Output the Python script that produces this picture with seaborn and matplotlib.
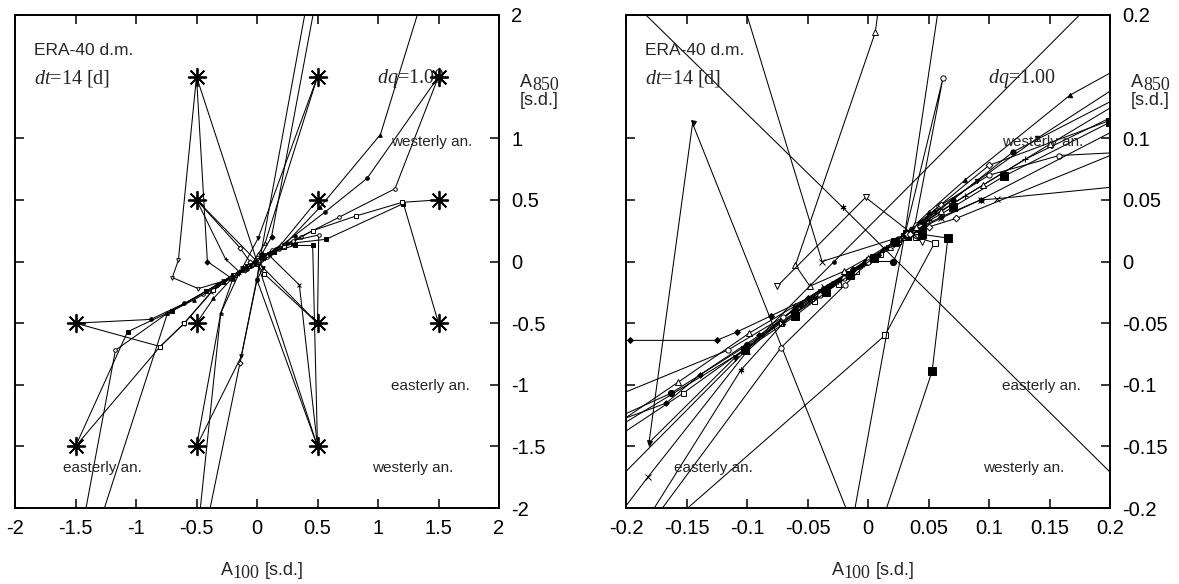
import numpy as np
import pandas as pd
import matplotlib
matplotlib.use("Agg")
import matplotlib.pyplot as plt
import seaborn as sns

# ---------------- left panel: anomaly trajectories, A100 vs A850 [s.d.] ----------------
start_x = [-0.5, 0.5, 1.5, -0.5, 0.5, 1.5, -1.5, -0.5, 0.5, 1.5, -1.5, -0.5, 0.5]
start_y = [1.5, 1.5, 1.5, 0.5, 0.5, 0.5, -0.5, -0.5, -0.5, -0.5, -1.5, -1.5, -1.5]

la_x = [1.5, 0.91, 0.56, 0.31, 0.16, 0.07, 0.03]
la_y = [1.5, 0.675, 0.40, 0.21, 0.10, 0.05, 0.02]
lb_x = [1.5, 1.14, 0.68, 0.36, 0.18, 0.08, 0.02]
lb_y = [1.5, 0.59, 0.36, 0.20, 0.10, 0.04, 0.01]
lc_x = [1.5, 1.21, 0.57, 0.30, 0.14, 0.06, 0.02]
lc_y = [-0.5, 0.47, 0.18, 0.15, 0.08, 0.04, 0.01]
ld_x = [1.5, 1.20, 0.82, 0.46, 0.22, 0.10, 0.03]
ld_y = [0.5, 0.48, 0.37, 0.25, 0.12, 0.06, 0.02]
le_x = [1.45, 1.02, 0.52, 0.25, 0.11, 0.04, 0.00]
le_y = [2.40, 1.03, 0.44, 0.16, 0.07, 0.03, 0.00]
lf_x = [0.5, 0.066, 0.01, -0.05, -0.02, 0.0]
lf_y = [1.5, 0.148, 0.06, -0.03, -0.01, 0.0]
lg_x = [0.5, 0.01, -0.12, -0.05, -0.02]
lg_y = [1.5, 0.19, -0.05, -0.03, -0.01]
lh_x = [-0.5, -0.65, -0.70, -0.485, -0.28, -0.12, -0.04]
lh_y = [1.5, 0.01, -0.13, -0.22, -0.16, -0.07, -0.02]
li_x = [-0.5, -0.41, -0.22, -0.10, -0.04, 0.0]
li_y = [1.5, 0.0, -0.13, -0.06, -0.02, 0.0]
lj_x = [-0.5, -0.14, -0.06, -0.10, -0.04, -0.01]
lj_y = [0.5, 0.11, 0.0, -0.07, -0.03, -0.01]
lk_x = [-0.5, -0.26, -0.15, -0.07, -0.02]
lk_y = [0.5, 0.02, -0.08, -0.04, -0.01]
ll_x = [-1.5, -0.80, -0.61, -0.38, -0.20, -0.08, -0.02]
ll_y = [-0.5, -0.69, -0.51, -0.25, -0.12, -0.05, -0.01]
lm_x = [-1.5, -0.88, -0.60, -0.33, -0.16, -0.06, -0.01]
lm_y = [-0.5, -0.47, -0.34, -0.19, -0.09, -0.03, 0.0]
ln_x = [-1.47, -1.17, -0.74, -0.45, -0.22, -0.09, -0.02]
ln_y = [-2.3, -0.72, -0.42, -0.26, -0.13, -0.05, -0.01]
lo_x = [-1.5, -1.07, -0.70, -0.42, -0.20, -0.08, -0.02]
lo_y = [-1.5, -0.57, -0.40, -0.24, -0.11, -0.04, -0.01]
lp_x = [-1.5, -0.80, -0.60, -0.36, -0.18, -0.07, -0.01]
lp_y = [-1.5, -0.69, -0.50, -0.23, -0.11, -0.04, 0.0]
lq_x = [-1.36, -0.74, -0.52, -0.27, -0.12, -0.04]
lq_y = [-2.3, -0.42, -0.31, -0.17, -0.07, -0.02]
lr_x = [-0.5, -0.30, -0.20, -0.09, -0.03]
lr_y = [-1.5, -0.42, -0.14, -0.06, -0.02]
ls_x = [-0.5, -0.13, 0.0, 0.05, 0.02]
ls_y = [-1.5, -0.77, -0.15, -0.05, 0.0]
lt_x = [0.45, 0.03, 0.01]
lt_y = [2.3, 0.05, 0.0]
lu_x = [0.52, 0.12, 0.04, 0.01]
lu_y = [2.3, 0.20, 0.06, 0.01]
lv_x = [-0.45, -0.14, 0.03, 0.01]
lv_y = [-2.3, -0.82, 0.01, 0.0]
lw_x = [-0.50, -0.30, -0.15, -0.06, -0.01]
lw_y = [-2.3, -0.42, -0.10, -0.04, 0.0]
lx_x = [0.5, 0.35, 0.10, 0.04, 0.01]
lx_y = [-1.5, -0.19, 0.05, 0.03, 0.01]
ly_x = [0.5, 0.0, 0.02, 0.01]
ly_y = [-1.5, -0.15, 0.0, 0.0]
lz_x = [0.5, 0.51, 0.30, 0.12, 0.05, 0.01]
lz_y = [-0.5, 0.215, 0.17, 0.09, 0.04, 0.01]
lA_x = [0.5, 0.46, 0.31, 0.14, 0.05, 0.01]
lA_y = [-1.5, 0.13, 0.13, 0.08, 0.03, 0.0]
lB_x = [0.5, 0.06, 0.0, 0.01]
lB_y = [-0.5, -0.10, -0.02, 0.0]
lC_x = [-0.5, -0.36, -0.20, -0.08, -0.02]
lC_y = [-0.5, -0.30, -0.13, -0.05, -0.01]
lD_x = [0.5, 0.20, 0.08, 0.02]
lD_y = [0.5, 0.14, 0.05, 0.01]
lE_x = [-0.5, 0.5]
lE_y = [1.5, -1.5]
lF_x = [-0.5, 0.5]
lF_y = [0.5, -0.5]

# ---------------- right panel: the same diagnostic, zoomed in ----------------
ra_x = [-0.26, -0.163, -0.10, -0.06, -0.035, -0.015, -0.002, 0.021, 0.030]
ra_y = [-0.15, -0.107, -0.068, -0.041, -0.024, -0.011, 0.000, 0.000, 0.020]
rb_x = [-0.25, -0.153, -0.072, -0.045, -0.025, -0.010, 0.010, 0.025]
rb_y = [-0.17, -0.107, -0.050, -0.032, -0.018, -0.008, 0.006, 0.017]
rc_x = [-0.26, -0.197, -0.125, -0.108, -0.080, -0.050, -0.030, -0.012, 0.008, 0.024]
rc_y = [-0.064, -0.064, -0.064, -0.057, -0.044, -0.030, -0.018, -0.007, 0.005, 0.016]
rd_x = [-0.25, -0.157, -0.098, -0.060, -0.038, -0.018, 0.000, 0.018]
rd_y = [-0.16, -0.098, -0.058, -0.036, -0.022, -0.010, 0.001, 0.012]
re_x = [-0.25, -0.167, -0.139, -0.090, -0.055, -0.032, -0.012, 0.012, 0.027]
re_y = [-0.145, -0.115, -0.092, -0.060, -0.035, -0.020, -0.006, 0.009, 0.019]
rf_x = [0.000, -0.145, -0.181, -0.110, -0.060, -0.040, -0.020, 0.000, 0.020]
rf_y = [-0.245, 0.112, -0.147, -0.078, -0.038, -0.025, -0.012, 0.001, 0.014]
rg_x = [-0.24, -0.182, -0.100, -0.060, -0.036, -0.016, 0.004, 0.022]
rg_y = [-0.25, -0.175, -0.073, -0.037, -0.021, -0.009, 0.003, 0.015]
rh_x = [-0.215, -0.105, -0.070, -0.045, -0.025, -0.005, 0.015]
rh_y = [-0.26, -0.088, -0.050, -0.030, -0.016, -0.003, 0.011]
ri_x = [-0.20, -0.072, -0.019, 0.005, 0.025]
ri_y = [-0.24, -0.070, -0.019, 0.004, 0.018]
rj_x = [-0.22, 0.014, 0.055, 0.040, 0.030]
rj_y = [-0.261, -0.060, 0.015, 0.020, 0.021]
rk_x = [-0.005, 0.053, 0.066, 0.045, 0.032]
rk_y = [-0.26, -0.089, 0.019, 0.022, 0.021]
rl_x = [0.065, 0.030, -0.020]
rl_y = [0.25, 0.020, -0.25]
rm_x = [0.030, 0.062, 0.038, 0.031]
rm_y = [0.020, 0.149, 0.026, 0.021]
rn_x = [0.012, 0.006, -0.060, -0.048, -0.020, 0.000, 0.020]
rn_y = [0.230, 0.186, -0.003, -0.020, -0.008, 0.003, 0.015]
ro_x = [-0.11, -0.038, 0.030]
ro_y = [0.232, 0.000, 0.021]
rp_x = [-0.22, -0.021, 0.23]
rp_y = [0.235, 0.044, -0.20]
rq_x = [-0.075, -0.002, 0.045, 0.035]
rq_y = [-0.020, 0.052, 0.016, 0.021]
rr_x = [-0.23, -0.028, 0.19]
rr_y = [-0.20, 0.000, 0.215]
rs_x = [0.25, 0.167, 0.080, 0.050, 0.035]
rs_y = [0.18, 0.135, 0.066, 0.040, 0.026]
rt_x = [0.26, 0.120, 0.070, 0.045, 0.033]
rt_y = [0.16, 0.089, 0.050, 0.032, 0.023]
ru_x = [0.28, 0.158, 0.100, 0.059, 0.040]
ru_y = [0.092, 0.086, 0.070, 0.045, 0.030]
rv_x = [0.20, 0.112, 0.070, 0.045, 0.032]
rv_y = [0.113, 0.069, 0.044, 0.030, 0.022]
rw_x = [0.27, 0.130, 0.080, 0.050, 0.035]
rw_y = [0.15, 0.083, 0.053, 0.034, 0.024]
rx_x = [0.27, 0.100, 0.060, 0.042, 0.032]
rx_y = [0.14, 0.078, 0.046, 0.030, 0.022]
ry_x = [0.30, 0.107, 0.093, 0.060, 0.040]
ry_y = [0.07, 0.051, 0.050, 0.035, 0.025]
rz_x = [0.26, 0.073, 0.050, 0.035]
rz_y = [0.11, 0.035, 0.028, 0.022]
rA_x = [0.26, 0.093, 0.060, 0.040]
rA_y = [0.135, 0.050, 0.036, 0.026]
rB_x = [0.25, 0.140, 0.090, 0.055, 0.036]
rB_y = [0.17, 0.100, 0.065, 0.040, 0.026]
rC_x = [0.26, 0.150, 0.095, 0.060, 0.040]
rC_y = [0.16, 0.095, 0.062, 0.041, 0.028]
rD_x = [-0.26, -0.116, -0.070, -0.040, -0.020, 0.000, 0.020]
rD_y = [-0.13, -0.072, -0.045, -0.027, -0.013, 0.000, 0.013]
rE_x = [-0.25, -0.102, -0.060, -0.035, -0.015, 0.005, 0.022]
rE_y = [-0.16, -0.072, -0.044, -0.025, -0.011, 0.003, 0.016]

left_xticks = [-2, -1.5, -1, -0.5, 0, 0.5, 1, 1.5, 2]
left_xlabels = ["-2", "-1.5", "-1", "-0.5", "0", "0.5", "1", "1.5", "2"]
left_yticks = [-2, -1.5, -1, -0.5, 0, 0.5, 1, 2]
left_ylabels = ["-2", "-1.5", "-1", "-0.5", "0", "0.5", "1", "2"]
right_xticks = [-0.2, -0.15, -0.1, -0.05, 0, 0.05, 0.1, 0.15, 0.2]
right_xlabels = ["-0.2", "-0.15", "-0.1", "-0.05", "0", "0.05", "0.1", "0.15", "0.2"]
right_yticks = [-0.2, -0.15, -0.1, -0.05, 0, 0.05, 0.1, 0.2]
right_ylabels = ["-0.2", "-0.15", "-0.1", "-0.05", "0", "0.05", "0.1", "0.2"]

left_tracks = [
    ("la", la_x, la_y), ("lb", lb_x, lb_y), ("lc", lc_x, lc_y), ("ld", ld_x, ld_y),
    ("le", le_x, le_y), ("lf", lf_x, lf_y), ("lg", lg_x, lg_y), ("lh", lh_x, lh_y),
    ("li", li_x, li_y), ("lj", lj_x, lj_y), ("lk", lk_x, lk_y), ("ll", ll_x, ll_y),
    ("lm", lm_x, lm_y), ("ln", ln_x, ln_y), ("lo", lo_x, lo_y), ("lp", lp_x, lp_y),
    ("lq", lq_x, lq_y), ("lr", lr_x, lr_y), ("ls", ls_x, ls_y), ("lt", lt_x, lt_y),
    ("lu", lu_x, lu_y), ("lv", lv_x, lv_y), ("lw", lw_x, lw_y), ("lx", lx_x, lx_y),
    ("ly", ly_x, ly_y), ("lz", lz_x, lz_y), ("lA", lA_x, lA_y), ("lB", lB_x, lB_y),
    ("lC", lC_x, lC_y), ("lD", lD_x, lD_y), ("lE", lE_x, lE_y), ("lF", lF_x, lF_y),
]
right_tracks = [
    ("ra", ra_x, ra_y), ("rb", rb_x, rb_y), ("rc", rc_x, rc_y), ("rd", rd_x, rd_y),
    ("re", re_x, re_y), ("rf", rf_x, rf_y), ("rg", rg_x, rg_y), ("rh", rh_x, rh_y),
    ("ri", ri_x, ri_y), ("rj", rj_x, rj_y), ("rk", rk_x, rk_y), ("rl", rl_x, rl_y),
    ("rm", rm_x, rm_y), ("rn", rn_x, rn_y), ("ro", ro_x, ro_y), ("rp", rp_x, rp_y),
    ("rq", rq_x, rq_y), ("rr", rr_x, rr_y), ("rs", rs_x, rs_y), ("rt", rt_x, rt_y),
    ("ru", ru_x, ru_y), ("rv", rv_x, rv_y), ("rw", rw_x, rw_y), ("rx", rx_x, rx_y),
    ("ry", ry_x, ry_y), ("rz", rz_x, rz_y), ("rA", rA_x, rA_y), ("rB", rB_x, rB_y),
    ("rC", rC_x, rC_y), ("rD", rD_x, rD_y), ("rE", rE_x, rE_y),
]

# point symbols, gnuplot-like: (marker, filled, size in pt)
AST = (6, 2, 0)
cycle = [("o", True), ("o", False), ("s", True), ("s", False), ("^", True), ("^", False),
         ("v", True), ("v", False), ("D", True), ("D", False), ("+", False), ("x", False)]
left_style = {name: (cycle[i % len(cycle)][0], cycle[i % len(cycle)][1], 2.6)
              for i, (name, _, _) in enumerate(left_tracks)}
right_style = {
    "ra": ("o", True, 4.5), "rb": ("s", False, 3.6), "rc": ("D", True, 3.0),
    "rd": ("^", False, 3.8), "re": ("D", True, 2.8), "rf": ("v", True, 3.6),
    "rg": ("x", False, 3.8), "rh": (AST, False, 4.2), "ri": ("o", False, 3.8),
    "rj": ("s", False, 3.8), "rk": ("s", True, 5.5), "rl": ("+", False, 3.6),
    "rm": ("o", False, 3.8), "rn": ("^", False, 3.8), "ro": ("x", False, 3.8),
    "rp": (AST, False, 4.2), "rq": ("v", False, 3.8), "rr": ("o", True, 2.6),
    "rs": ("^", True, 3.2), "rt": ("o", True, 3.8), "ru": ("o", False, 3.8),
    "rv": ("s", True, 5.5), "rw": ("+", False, 3.8), "rx": ("D", False, 3.4),
    "ry": ("x", False, 3.8), "rz": ("D", False, 3.4), "rA": ("D", True, 2.8),
    "rB": ("v", True, 3.2), "rC": ("^", False, 3.8), "rD": ("o", False, 3.8),
    "rE": ("s", True, 5.5),
}

sns.set_theme(style="white")
plt.rcParams["font.family"] = ["Liberation Sans", "DejaVu Sans"]
plt.rcParams["mathtext.fontset"] = "custom"
plt.rcParams["mathtext.rm"] = "Liberation Serif"
plt.rcParams["mathtext.it"] = "Liberation Serif:italic"
plt.rcParams["axes.unicode_minus"] = False

W, H = 1179, 584
fig = plt.figure(figsize=(W / 100, H / 100), dpi=100)
ax_l = fig.add_axes([15 / W, 76 / H, 484 / W, 493 / H])
ax_r = fig.add_axes([626 / W, 76 / H, 484 / W, 493 / H])


def px_text(x, y, s, **kw):
    # place a text by its pixel position from the top-left corner of the figure
    fig.text(x / W, 1 - y / H, s, va="baseline", **kw)


def draw_tracks(ax, tracks, styles):
    for name, xs, ys in tracks:
        marker, filled, ms = styles[name]
        df = pd.DataFrame({"x": xs, "y": ys})
        sns.lineplot(data=df, x="x", y="y", ax=ax, sort=False, estimator=None,
                     color="black", linewidth=0.75, marker=marker, markersize=ms,
                     markerfacecolor="black" if filled else "white",
                     markeredgecolor="black", markeredgewidth=0.7)


def frame(ax, xt, xl, yt, yl, lim, x0):
    ax.set_xlim(-lim, lim)
    ax.set_ylim(-lim, lim)
    ax.set_xticks(xt)
    ax.set_xticklabels(xl)
    ax.set_yticks(yt)
    ax.set_yticklabels(yl)
    ax.set_xlabel("")
    ax.set_ylabel("")
    ax.tick_params(direction="in", length=6.5, width=1.1, color="black",
                   top=True, bottom=True, left=True, right=True,
                   labelleft=False, labelright=True, labelsize=14.5, labelcolor="black")
    ax.tick_params(axis="x", pad=8)
    ax.tick_params(axis="y", pad=9)
    for sp in ax.spines.values():
        sp.set_color("black")
        sp.set_linewidth(1.4)
    ax.text(0.04, 0.929, "ERA-40 d.m.", transform=ax.transAxes, fontsize=12.5, va="center")
    ax.text(0.04, 0.872, r"$dt$=14 [d]", transform=ax.transAxes, fontsize=14.5,
            family="Liberation Serif", va="center")
    ax.text(0.747, 0.872, r"$dq$=1.00", transform=ax.transAxes, fontsize=14.5,
            family="Liberation Serif", va="center")
    ax.text(0.776, 0.742, "westerly an.", transform=ax.transAxes, fontsize=11, va="center")
    ax.text(0.776, 0.247, "easterly an.", transform=ax.transAxes, fontsize=11, va="center")
    ax.text(0.100, 0.081, "easterly an.", transform=ax.transAxes, fontsize=11, va="center")
    ax.text(0.738, 0.081, "westerly an.", transform=ax.transAxes, fontsize=11, va="center")
    # vertical axis label on the right, with a serif subscript
    px_text(x0 + 505, 87, "A", fontsize=13)
    px_text(x0 + 517, 90, "850", fontsize=13, family="Liberation Serif")
    px_text(x0 + 505, 105, "[s.d.]", fontsize=13)
    # horizontal axis label below
    px_text(x0 + 206, 575, "A", fontsize=13)
    px_text(x0 + 217, 578, "100", fontsize=13, family="Liberation Serif")
    px_text(x0 + 250, 575, "[s.d.]", fontsize=13)


draw_tracks(ax_l, left_tracks, left_style)
sns.scatterplot(x=start_x, y=start_y, ax=ax_l, marker=(8, 2, 0), s=160, color="black",
                linewidth=1.3, edgecolor="black", zorder=4, legend=False)
frame(ax_l, left_xticks, left_xlabels, left_yticks, left_ylabels, 2, 15)

draw_tracks(ax_r, right_tracks, right_style)
frame(ax_r, right_xticks, right_xlabels, right_yticks, right_ylabels, 0.2, 626)

fig.savefig("out.png", dpi=100)
